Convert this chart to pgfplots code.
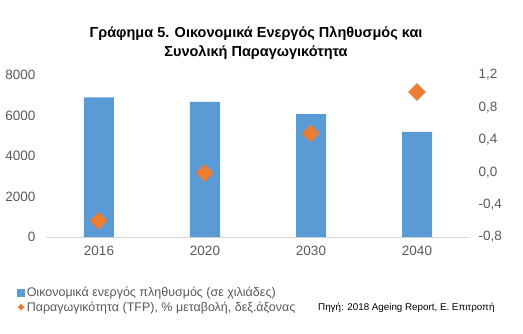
\documentclass[border=0pt]{standalone}
\usepackage{pgfplots}
\pgfplotsset{compat=1.18}
\usepackage{fontspec}
\setmainfont{Liberation Sans}
\definecolor{barblue}{HTML}{5B9BD5}
\definecolor{dorange}{HTML}{ED7D31}
\definecolor{ticktxt}{HTML}{595959}
\definecolor{axline}{HTML}{D9D9D9}
\begin{document}
\begin{tikzpicture}
\path[use as bounding box] (0,0) rectangle (523pt,333pt);
\begin{axis}[
  at={(46pt,96pt)}, anchor=south west,
  scale only axis, width=424pt, height=162pt,
  xmin=-0.5, xmax=3.5, ymin=0, ymax=8000,
  xtick={0,1,2,3}, xticklabels={2016,2020,2030,2040},
  ytick={0,2000,4000,6000,8000},
  major tick length=0pt,
  axis x line*=bottom, axis y line*=left,
  x axis line style={draw=axline, line width=0.8pt},
  y axis line style={draw=none},
  tick label style={font=\fontsize{13.5}{15}\selectfont, text=ticktxt},
  /pgf/number format/assume math mode=true,
  /pgf/number format/1000 sep={},
  yticklabel style={xshift=-7pt},
  xticklabel style={yshift=-6pt},
]
\addplot[ybar, bar width=30pt, fill=barblue, draw=none] coordinates {(0,6890) (1,6670) (2,6070) (3,5190)};
\end{axis}
\begin{axis}[
  at={(46pt,96pt)}, anchor=south west,
  scale only axis, width=424pt, height=162pt,
  xmin=-0.5, xmax=3.5, ymin=-0.8, ymax=1.2,
  ytick={-0.8,-0.4,0,0.4,0.8,1.2},
  major tick length=0pt,
  axis x line=none, axis y line*=right,
  y axis line style={draw=none},
  tick label style={font=\fontsize{13.5}{15}\selectfont, text=ticktxt},
  /pgf/number format/assume math mode=true,
  yticklabel style={xshift=5pt, anchor=west, /pgf/number format/.cd, fixed, fixed zerofill, precision=1, use comma},
  legend style={draw=none, fill=none, at={(-0.068,-0.294)}, anchor=north west, inner sep=0pt,
    font=\fontsize{12.5}{14}\selectfont, text=ticktxt, row sep=0pt},
  legend cell align=left,
]
\addlegendimage{legend image code/.code={\fill[barblue] (0pt,-3.5pt) rectangle (7pt,3.5pt);}}
\addlegendentry{Οικονομικά ενεργός πληθυσμός (σε χιλιάδες)}
\addplot[only marks, color=dorange, mark=square*, mark size=6pt, mark options={rotate=45, fill=dorange, draw=dorange},
  legend image code/.code={\fill[dorange] (3.5pt,3pt) -- (6.5pt,0pt) -- (3.5pt,-3pt) -- (0.5pt,0pt) -- cycle;}]
  coordinates {(0,-0.60) (1,-0.01) (2,0.48) (3,0.99)};
\addlegendentry{Παραγωγικότητα (TFP), \% μεταβολή, δεξ.άξονας}
\end{axis}
\node[align=center, font=\fontsize{14.5}{19}\selectfont\bfseries, text=black] at (256pt,290pt) {Γράφημα 5. Οικονομικά Ενεργός Πληθυσμός και\\Συνολική Παραγωγικότητα};
\node[anchor=east, font=\fontsize{9.8}{11}\selectfont, text=black] at (498pt,25pt) {Πηγή: 2018 Ageing Report, Ε. Επιτροπή};
\end{tikzpicture}
\end{document}
